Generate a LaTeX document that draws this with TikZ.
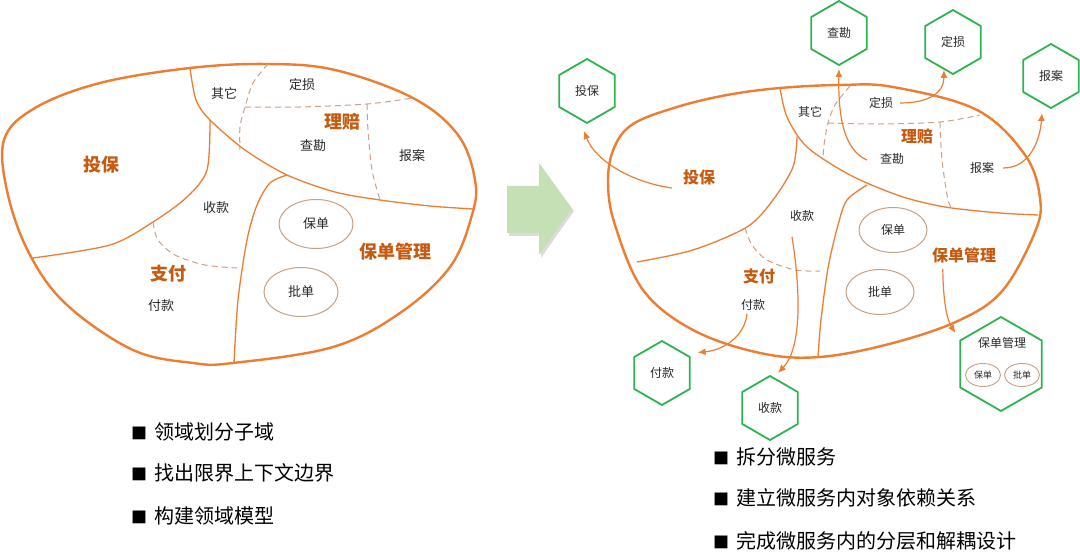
\documentclass[tikz,border=0pt]{standalone}
\usepackage{fontspec}
\setmainfont{Noto Sans CJK SC}
\usetikzlibrary{shapes.geometric,arrows.meta}
\definecolor{org}{RGB}{237,125,49}
\definecolor{lab}{RGB}{197,90,17}
\definecolor{tanc}{RGB}{200,160,130}
\definecolor{dshc}{RGB}{205,160,135}
\definecolor{grn}{RGB}{45,180,80}
\definecolor{txt}{RGB}{40,40,40}
\definecolor{arrg}{RGB}{197,224,180}
\begin{document}
\begin{tikzpicture}[x=1pt,y=-1pt,
 outerline/.style={draw=org,line width=2.4pt},
 innerline/.style={draw=org,line width=1.3pt},
 dshline/.style={draw=dshc,line width=1pt,dash pattern=on 6pt off 4pt},
 smL/.style={inner sep=0pt,text=txt,font=\fontsize{13}{13}\selectfont},
 smR/.style={inner sep=0pt,text=txt,font=\fontsize{12}{12}\selectfont},
 bigL/.style={inner sep=0pt,text=lab,font=\fontsize{18}{18}\selectfont\bfseries},
 bigR/.style={inner sep=0pt,text=lab,font=\fontsize{16}{16}\selectfont\bfseries},
 ellL/.style={draw=tanc,line width=1pt,ellipse,inner sep=0pt,minimum width=74pt,minimum height=49pt,text=txt,font=\fontsize{13}{13}\selectfont},
 ellR/.style={draw=tanc,line width=1pt,ellipse,inner sep=0pt,minimum width=68pt,minimum height=45pt,text=txt,font=\fontsize{12}{12}\selectfont},
 ellS/.style={draw=tanc,line width=0.9pt,ellipse,inner sep=0pt,minimum width=35pt,minimum height=23pt,text=txt,font=\fontsize{9}{9}\selectfont},
 hexa/.style={draw=grn,line width=1.8pt,regular polygon,regular polygon sides=6,shape border rotate=30,minimum size=64pt,inner sep=0pt,text=txt,font=\fontsize{12}{12}\selectfont},
 conn/.style={draw=org,line width=1.2pt,-{Latex[length=8pt,width=7pt]}},
 bullet/.style={inner sep=0pt,anchor=west,text=black,font=\fontsize{20}{20}\selectfont},
]
\useasboundingbox (0,0) rectangle (1080,553);
\fill[white] (0,0) rectangle (1080,553);

% ---------------- left blob ----------------
\draw[outerline] plot[smooth cycle,tension=0.6] coordinates {(4,140) (35,108) (100,83) (190,68) (267,64) (335,70) (413,98) (458,135) (475,180) (472,215) (450,267) (400,313) (333,347) (233,363) (193,363) (133,350) (67,305) (30,255) (8,195)};
\draw[innerline] plot[smooth] coordinates {(190,68) (196,100) (210,120) (245,150) (287,175) (335,192) (380,200) (430,206) (473,209)};
\draw[innerline] plot[smooth] coordinates {(210,120) (207,170) (187,197) (153,222) (110,245) (33,258)};
\draw[innerline] plot[smooth] coordinates {(287,175) (270,183) (257,205) (247,240) (238,300) (234,363)};
\draw[dshline] plot[smooth] coordinates {(153,222) (158,240) (175,255) (205,265) (237,268)};
\draw[dshline] plot[smooth] coordinates {(268,64) (253,83) (245,107) (240,127) (240,150)};
\draw[dshline] plot[smooth] coordinates {(245,107) (300,107) (367,104) (413,98)};
\draw[dshline] plot[smooth] coordinates {(367,104) (368,130) (372,170) (380,200)};

\node[smL] (lqt) at (224,94) {其它};
\node[smL] (lds) at (302,85) {定损};
\node[bigL] (llp) at (342,122) {理赔};
\node[smL] (lck) at (313,146) {查勘};
\node[smL] (lba) at (412,156) {报案};
\node[bigL] (ltb) at (101,165) {投保};
\node[smL] (lsk) at (216,208) {收款};
\node[ellL] (lbd) at (316,224) {保单};
\node[bigL] (lgl) at (395,252) {保单管理};
\node[bigL] (lzf) at (168,274) {支付};
\node[ellL] (lpd) at (301,292) {批单};
\node[smL] (lfk) at (161,306) {付款};

% ---------------- block arrow ----------------
\fill[gray!45,opacity=0.6] (509,189) -- (541,189) -- (541,166) -- (574,211) -- (541,258) -- (541,236) -- (509,236) -- cycle;
\fill[arrg] (507,186) -- (539,186) -- (539,163) -- (572,209) -- (539,255) -- (539,233) -- (507,233) -- cycle;

% ---------------- right blob ----------------
\draw[outerline] plot[smooth cycle,tension=0.6] coordinates {(608,182) (614,148) (633,124) (677,107) (727,95) (780,88) (840,85) (893,87) (977,110) (1025,155) (1040,198) (1035,232) (1003,290) (960,320) (893,343) (820,357) (760,353) (693,330) (643,290) (615,225)};
\draw[innerline] plot[smooth] coordinates {(780,88) (787,117) (807,147) (850,175) (900,196) (945,207) (1000,213) (1038,215)};
\draw[innerline] plot[smooth] coordinates {(797,137) (793,167) (773,200) (747,227) (693,250) (637,262)};
\draw[innerline] plot[smooth] coordinates {(867,185) (847,200) (838,225) (828,268) (821,320) (818,357)};
\draw[dshline] plot[smooth] coordinates {(850,86) (835,105) (828,123) (824,145) (823,160)};
\draw[dshline] plot[smooth] coordinates {(828,123) (880,124) (940,122) (980,115)};
\draw[dshline] plot[smooth] coordinates {(940,122) (942,160) (948,200) (952,208)};
\draw[dshline] plot[smooth] coordinates {(745,228) (752,245) (767,260) (795,270) (820,271)};

\node[smR] (rqt) at (810,112) {其它};
\node[smR] (rds) at (881,103) {定损};
\node[bigR] (rlp) at (917,137) {理赔};
\node[smR] (rck) at (892,159) {查勘};
\node[smR] (rba) at (982,168) {报案};
\node[bigR] (rtb) at (699,177) {投保};
\node[smR] (rsk) at (802,216) {收款};
\node[ellR] (rbd) at (893,230) {保单};
\node[bigR] (rgl) at (964,255) {保单管理};
\node[bigR] (rzf) at (759,276) {支付};
\node[ellR] (rpd) at (880,292) {批单};
\node[smR] (rfk) at (753,305) {付款};

% ---------------- hexagons ----------------
\node[hexa] (htb) at (587,91) {投保};
\node[hexa] (hck) at (839,33) {查勘};
\node[hexa] (hds) at (953,42) {定损};
\node[hexa] (hba) at (1051,76) {报案};
\node[hexa] (hfk) at (662,373) {付款};
\node[hexa] (hsk) at (770,408) {收款};
\node[hexa,minimum size=94pt] (hbg) at (1001,364) {};
\node[smR] (hbgt) at (1002,343) {保单管理};
\node[ellS] (hbd) at (983,375) {保单};
\node[ellS] (hpd) at (1022,375) {批单};

% ---------------- connectors ----------------
\draw[conn] ([shift={(-11,11)}]rtb.west) .. controls (630,182) and (595,160) .. ([shift={(-3,7)}]htb.270);
\draw[conn] ([shift={(-13,1)}]rck.west) .. controls (845,150) and (838,120) .. ([shift={(0,3)}]hck.270);
\draw[conn] ([shift={(7,0)}]rds.east) .. controls (930,103) and (944,92) .. (hds.252);
\draw[conn] ([shift={(9,0)}]rba.east) .. controls (1030,168) and (1040,140) .. ([shift={(-9,4)}]hba.270);
\draw[conn] ([shift={(-6,3)}]rfk.south) .. controls (745,335) and (725,350) .. ([shift={(7,-4)}]hfk.30);
\draw[conn] ([shift={(-10,15)}]rsk.south) .. controls (802,300) and (800,350) .. ([shift={(8,-2)}]hsk.90);
\draw[conn] ([shift={(11,6)}]rgl.south west) .. controls (943,300) and (947,320) .. ([shift={(-4,-7)}]hbg.150);

% ---------------- bullet lists ----------------
\node[bullet] (b1) at (131,432) {{\fontsize{16}{16}\selectfont ■}\hspace{7pt}领域划分子域};
\node[bullet] (b2) at (131,473) {{\fontsize{16}{16}\selectfont ■}\hspace{7pt}找出限界上下文边界};
\node[bullet] (b3) at (131,516) {{\fontsize{16}{16}\selectfont ■}\hspace{7pt}构建领域模型};
\node[bullet] (b4) at (713,457) {{\fontsize{16}{16}\selectfont ■}\hspace{7pt}拆分微服务};
\node[bullet] (b5) at (713,498) {{\fontsize{16}{16}\selectfont ■}\hspace{7pt}建立微服务内对象依赖关系};
\node[bullet] (b6) at (713,541) {{\fontsize{16}{16}\selectfont ■}\hspace{7pt}完成微服务内的分层和解耦设计};
\end{tikzpicture}
\end{document}
